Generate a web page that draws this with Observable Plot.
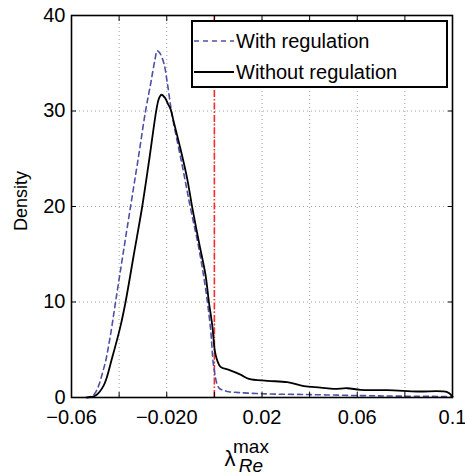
<!DOCTYPE html>
<html>
<head>
<meta charset="utf-8">
<script src="https://cdn.jsdelivr.net/npm/d3@7"></script>
<script src="https://cdn.jsdelivr.net/npm/@observablehq/plot@0.6"></script>
<style>
  html, body { margin: 0; padding: 0; background: #fff; }
  #wrap { position: relative; width: 465px; height: 475px; font-family: "Liberation Sans", Arial, Helvetica, sans-serif; }
  #legend { position: absolute; left: 191px; top: 20px; width: 253px; height: 64px; border: 2px solid #000; background: #fff; }
  .row { position: absolute; left: 0; height: 30px; display: flex; align-items: center; font-size: 20px; color: #000; white-space: nowrap; }
  .row svg { margin-right: 2px; }
</style>
</head>
<body>
<div id="wrap"></div>
<script>
// ---- data ----
const seriesNames = ["With regulation", "Without regulation"];

const xWith = [-0.0541, -0.0506, -0.0464, -0.0440, -0.0415, -0.0385, -0.0352, -0.0320, -0.0289, -0.0268, -0.0250, -0.0240, -0.0230, -0.0212, -0.0198, -0.0177, -0.0135, -0.0100, -0.0065, -0.0037, -0.0016, -0.0002, 0.0019, 0.0040, 0.0061, 0.0082, 0.0201, 0.0409, 0.0614, 0.0782, 0.1];
const yWith = [0, 0.3, 3.1, 6.0, 10.0, 14.8, 20.0, 25.0, 30.0, 32.8, 35.3, 36.3, 36.1, 35.0, 33.0, 29.5, 24.3, 19.8, 15.6, 11.4, 7.2, 3.1, 1.0, 0.75, 0.6, 0.55, 0.39, 0.3, 0.2, 0.14, 0.1];

const xWithout = [-0.0534, -0.0499, -0.0464, -0.0429, -0.0394, -0.0373, -0.0338, -0.0303, -0.0273, -0.0243, -0.0233, -0.0222, -0.0208, -0.0194, -0.0184, -0.0170, -0.0142, -0.0114, -0.0093, -0.0065, -0.0037, -0.0023, -0.0009, 0.0005, 0.0026, 0.0061, 0.0110, 0.0145, 0.0222, 0.0306, 0.0376, 0.0446, 0.0502, 0.0558, 0.0614, 0.0726, 0.0852, 0.0978, 0.1];
const yWithout = [0, 0.2, 1.3, 4.2, 7.5, 10.0, 15.0, 20.0, 25.0, 30.2, 31.3, 31.7, 31.4, 30.7, 30.2, 28.8, 26.0, 22.9, 19.9, 16.3, 12.8, 10.0, 7.6, 4.5, 3.2, 2.9, 2.4, 1.95, 1.75, 1.6, 1.2, 1.04, 0.9, 0.97, 0.8, 0.77, 0.63, 0.56, 0.1];

const threshold = [0];

const xTicks = [-0.06, -0.04, -0.02, 0, 0.02, 0.04, 0.06, 0.08, 0.1];
const xTickLabels = ["\u22120.06", "", "\u22120.020", "", "0.02", "", "0.06", "", "0.1"];
const yTicks = [0, 10, 20, 30, 40];
const yTickLabels = ["0", "10", "20", "30", "40"];

// ---- build ----
const withData = xWith.map((x, i) => ({x, y: yWith[i]}));
const withoutData = xWithout.map((x, i) => ({x, y: yWithout[i]}));
const xLab = new Map(xTicks.map((t, i) => [t, xTickLabels[i]]));
const yLab = new Map(yTicks.map((t, i) => [t, yTickLabels[i]]));

const blue = "#4f4fa6";
const font = "Liberation Sans, Arial, Helvetica, sans-serif";

const chart = Plot.plot({
  width: 465,
  height: 475,
  marginLeft: 71,
  marginRight: 13,
  marginTop: 15,
  marginBottom: 78,
  style: {fontFamily: font, fontSize: "20px", background: "#fff", color: "#000"},
  x: {domain: [-0.06, 0.1]},
  y: {domain: [0, 40]},
  marks: [
    Plot.gridX(xTicks, {stroke: "#888", strokeOpacity: 1, strokeDasharray: "1,3", strokeWidth: 0.8}),
    Plot.gridY(yTicks, {stroke: "#888", strokeOpacity: 1, strokeDasharray: "1,3", strokeWidth: 0.8}),
    Plot.ruleX(threshold, {stroke: "#ff2a2a", strokeWidth: 1.6, strokeDasharray: "7,2,1.5,2"}),
    Plot.line(withData, {x: "x", y: "y", stroke: blue, strokeWidth: 1.6, strokeDasharray: "5,4", curve: "catmull-rom"}),
    Plot.line(withoutData, {x: "x", y: "y", stroke: "#000", strokeWidth: 1.8, curve: "catmull-rom"}),
    // inward ticks
    Plot.axisX(xTicks, {anchor: "bottom", tickSize: 5, dy: -5, tickFormat: () => "", label: null, strokeWidth: 1}),
    Plot.axisX(xTicks, {anchor: "top", tickSize: 5, dy: 5, tickFormat: () => "", label: null, strokeWidth: 1}),
    Plot.axisY(yTicks, {anchor: "left", tickSize: 5, dx: 5, tickFormat: () => "", label: null, strokeWidth: 1}),
    Plot.axisY(yTicks, {anchor: "right", tickSize: 5, dx: -5, tickFormat: () => "", label: null, strokeWidth: 1}),
    // labels
    Plot.axisX(xTicks.filter(t => xLab.get(t) !== ""), {anchor: "bottom", tickSize: 0, tickPadding: 12, tickFormat: d => xLab.get(d), label: null, fontSize: 20}),
    Plot.axisY(yTicks, {anchor: "left", tickSize: 0, tickPadding: 6, tickFormat: d => yLab.get(d), label: null, fontSize: 20}),
    Plot.frame({stroke: "#000", strokeWidth: 1.6})
  ]
});

const wrap = document.getElementById("wrap");
wrap.appendChild(chart);

const svg = d3.select(chart);
svg.append("text")
  .attr("transform", "translate(27,201) rotate(-90)")
  .attr("text-anchor", "middle")
  .attr("font-family", font)
  .attr("font-size", 18)
  .attr("fill", "#000")
  .text("Density");

// x label: lambda with stacked superscript/subscript, as one text element
const xl = svg.append("text")
  .attr("x", 230).attr("y", 466)
  .attr("font-family", font).attr("fill", "#000");
xl.append("tspan").attr("font-size", 22).text("\u03bb");
xl.append("tspan").attr("x", 251).attr("y", 453).attr("font-size", 19).text("max");
xl.append("tspan").attr("x", 251).attr("y", 472).attr("font-size", 19).attr("font-style", "italic").text("Re");

// legend (HTML)
const legend = document.createElement("div");
legend.id = "legend";
legend.innerHTML = `
  <div class="row" style="top:4px"><svg width="41" height="10"><line x1="1" y1="5" x2="41" y2="5" stroke="${blue}" stroke-width="1.6" stroke-dasharray="5,4"/></svg><span>${seriesNames[0]}</span></div>
  <div class="row" style="top:35px"><svg width="41" height="10"><line x1="1" y1="5" x2="41" y2="5" stroke="#000" stroke-width="1.8"/></svg><span>${seriesNames[1]}</span></div>`;
wrap.appendChild(legend);
</script>
</body>
</html>
